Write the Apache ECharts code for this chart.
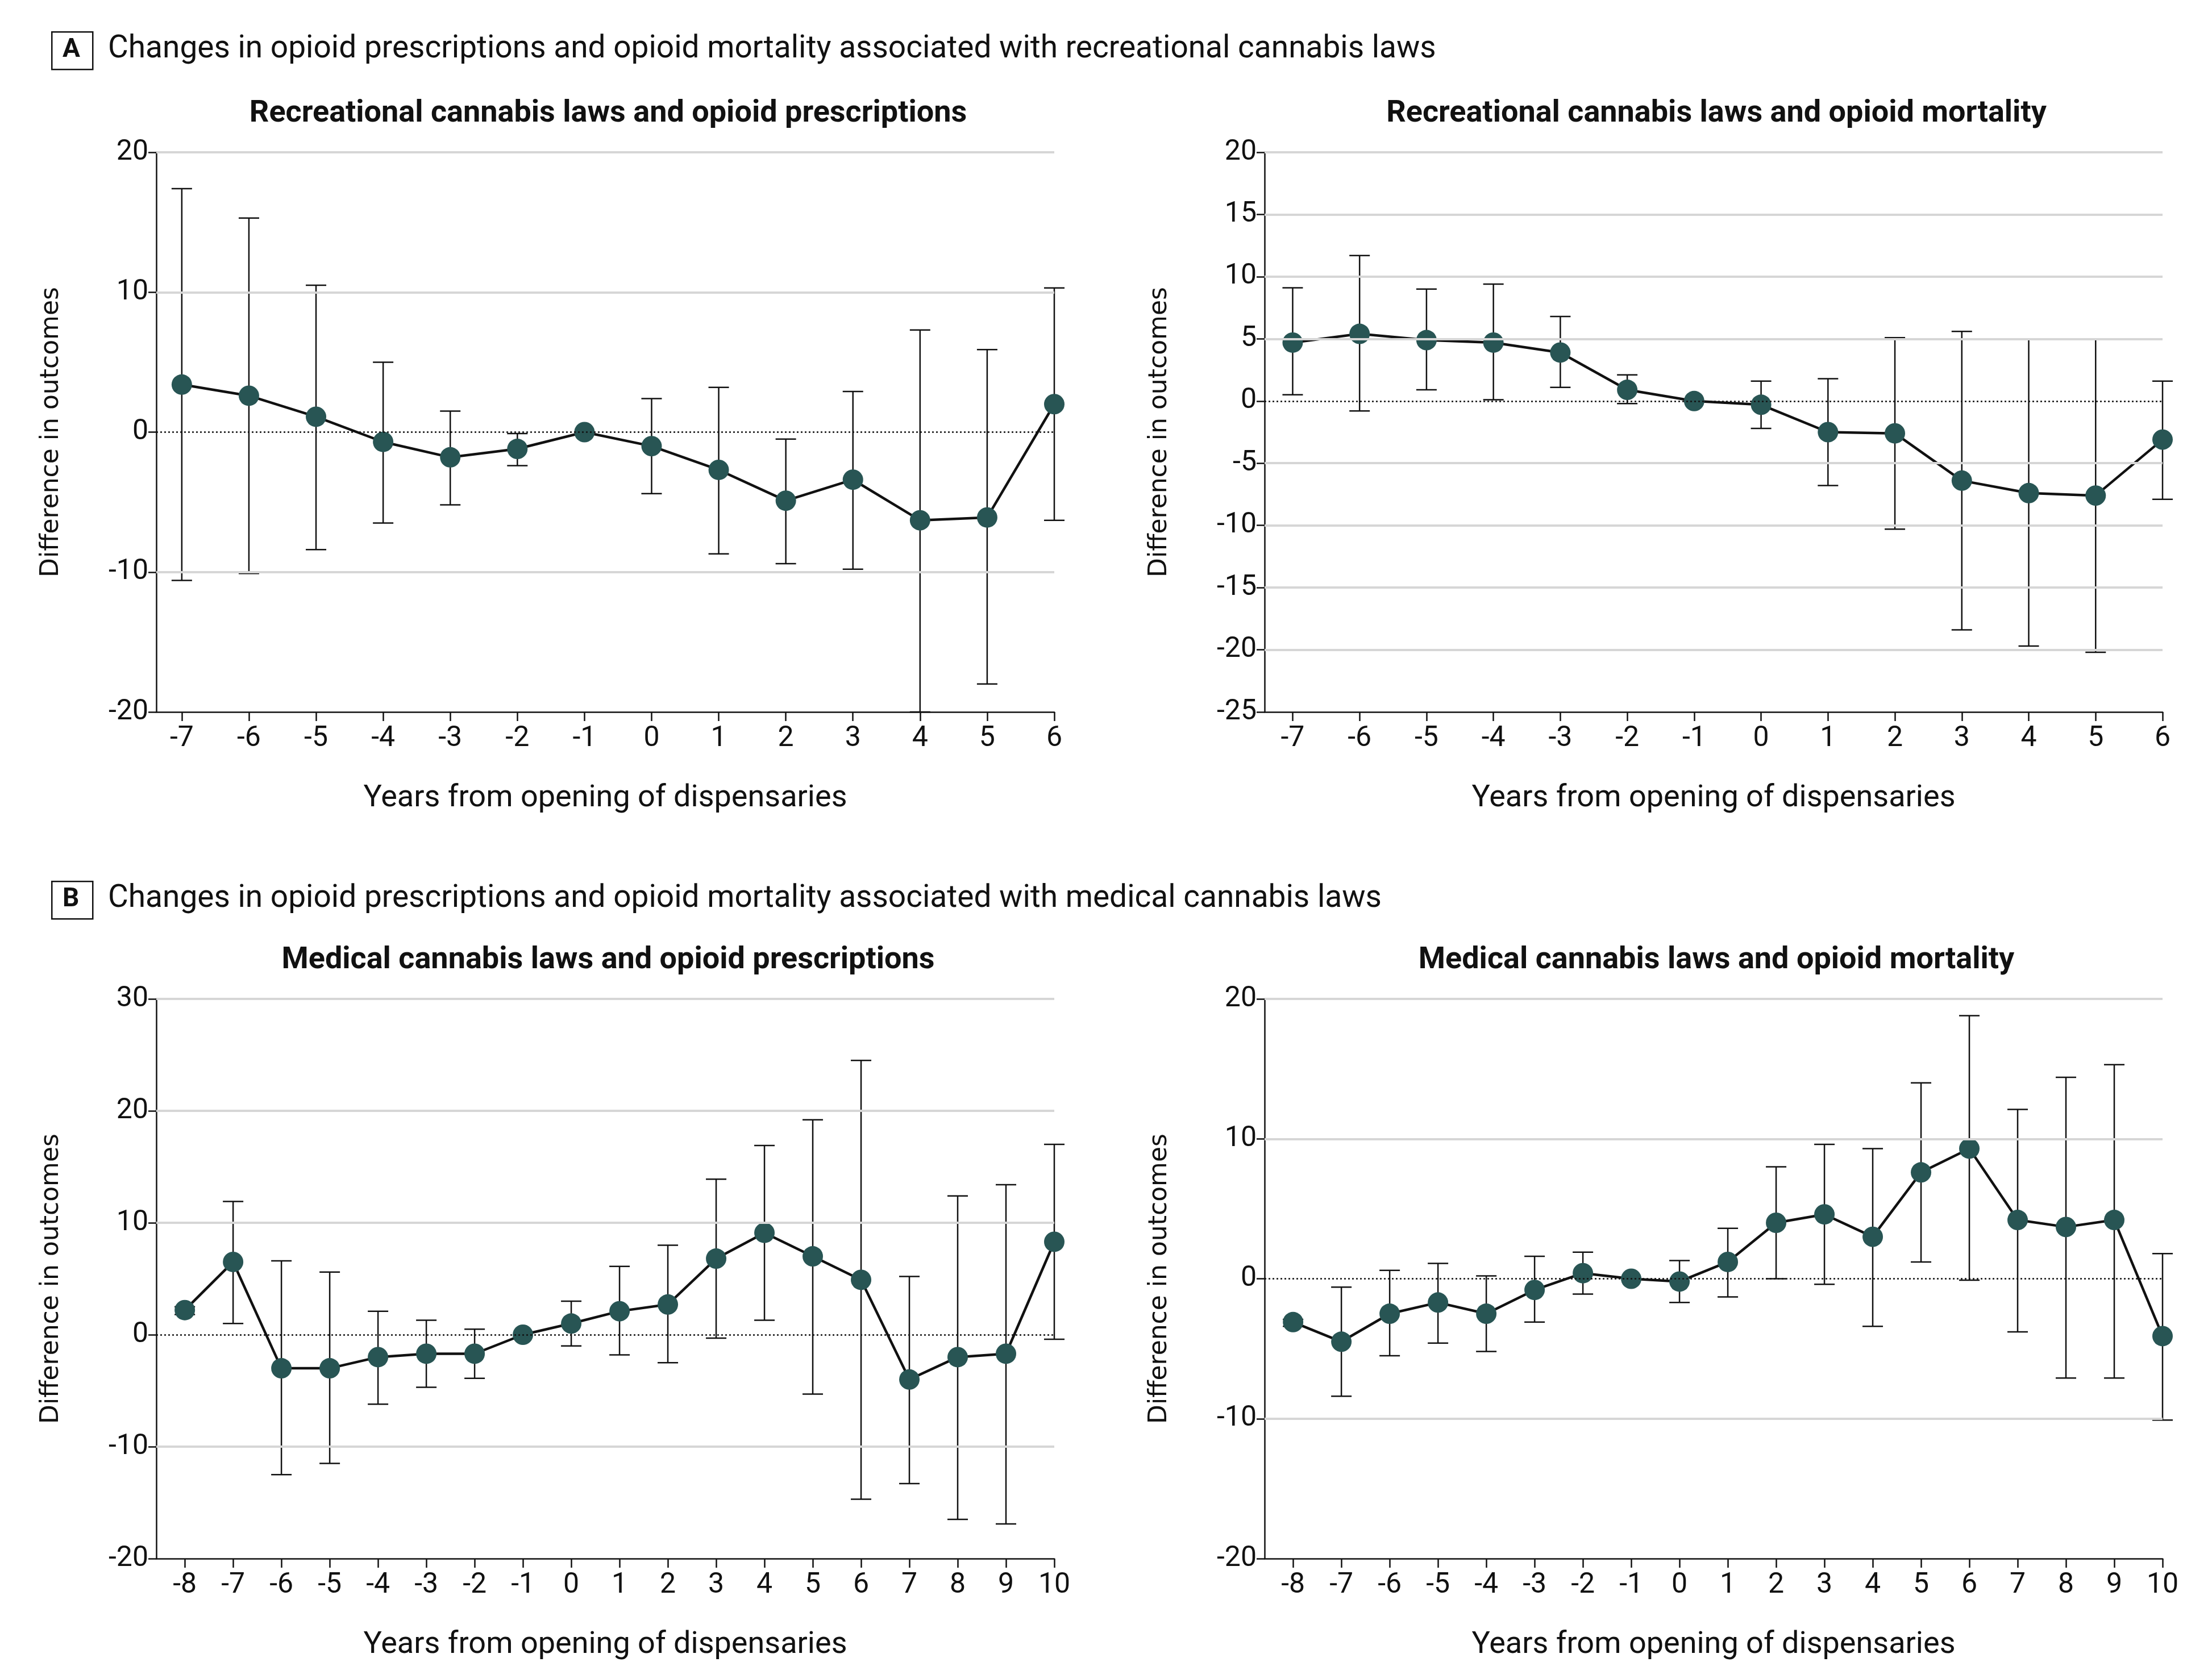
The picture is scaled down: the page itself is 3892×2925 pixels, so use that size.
<!DOCTYPE html>
<html><head><meta charset="utf-8">
<script src="https://cdn.jsdelivr.net/npm/echarts@6/dist/echarts.min.js"></script>
<style>html,body{margin:0;padding:0;background:#fff}#c{width:3892px;height:2925px}</style>
</head><body><div id="c"></div>
<script>
// Panel A left: recreational / prescriptions
const yearsA = [-7,-6,-5,-4,-3,-2,-1,0,1,2,3,4,5,6];
const recPresMean  = [3.4,2.6,1.1,-0.7,-1.8,-1.2,0,-1.0,-2.7,-4.9,-3.4,-6.3,-6.1,2.0];
const recPresUpper = [17.4,15.3,10.5,5.0,1.5,-0.1,null,2.4,3.2,-0.5,2.9,7.3,5.9,10.3];
const recPresLower = [-10.6,-10.1,-8.4,-6.5,-5.2,-2.4,null,-4.4,-8.7,-9.4,-9.8,-20.0,-18.0,-6.3];
// Panel A right: recreational / mortality
const recMortMean  = [4.7,5.4,4.9,4.7,3.9,0.9,0,-0.3,-2.5,-2.6,-6.4,-7.4,-7.6,-3.1];
const recMortUpper = [9.1,11.7,9.0,9.4,6.8,2.1,null,1.6,1.8,5.1,5.6,5.0,5.0,1.6];
const recMortLower = [0.5,-0.8,0.9,0.1,1.1,-0.2,null,-2.2,-6.8,-10.3,-18.4,-19.7,-20.2,-7.9];
// Panel B
const yearsB = [-8,-7,-6,-5,-4,-3,-2,-1,0,1,2,3,4,5,6,7,8,9,10];
const medPresMean  = [2.2,6.5,-3.0,-3.0,-2.0,-1.7,-1.7,0,1.0,2.1,2.7,6.8,9.1,7.0,4.9,-4.0,-2.0,-1.7,8.3];
const medPresUpper = [2.5,11.9,6.6,5.6,2.1,1.3,0.5,null,3.0,6.1,8.0,13.9,16.9,19.2,24.5,5.2,12.4,13.4,17.0];
const medPresLower = [1.8,1.0,-12.5,-11.5,-6.2,-4.7,-3.9,null,-1.0,-1.8,-2.5,-0.3,1.3,-5.3,-14.7,-13.3,-16.5,-16.9,-0.4];
const medMortMean  = [-3.1,-4.5,-2.5,-1.7,-2.5,-0.8,0.4,0,-0.2,1.2,4.0,4.6,3.0,7.6,9.3,4.2,3.7,4.2,-4.1];
const medMortUpper = [-2.9,-0.6,0.6,1.1,0.2,1.6,1.9,null,1.3,3.6,8.0,9.6,9.3,14.0,18.8,12.1,14.4,15.3,1.8];
const medMortLower = [-3.4,-8.4,-5.5,-4.6,-5.2,-3.1,-1.1,null,-1.7,-1.3,0.0,-0.4,-3.4,1.2,-0.1,-3.8,-7.1,-7.1,-10.1];

const titles = ['Recreational cannabis laws and opioid prescriptions','Recreational cannabis laws and opioid mortality',
  'Medical cannabis laws and opioid prescriptions','Medical cannabis laws and opioid mortality'];
const yTicks = [[-20,-10,0,10,20],[-25,-20,-15,-10,-5,0,5,10,15,20],[-20,-10,0,10,20,30],[-20,-10,0,10,20]];

const panels = [
  {x:yearsA,m:recPresMean,u:recPresUpper,l:recPresLower,xmin:-7.38,xmax:6,left:275,right:2037,top:268,bottom:1672},
  {x:yearsA,m:recMortMean,u:recMortUpper,l:recMortLower,xmin:-7.42,xmax:6,left:2225,right:87,top:268,bottom:1672},
  {x:yearsB,m:medPresMean,u:medPresUpper,l:medPresLower,xmin:-8.59,xmax:10,left:275,right:2037,top:1758,bottom:182},
  {x:yearsB,m:medMortMean,u:medMortUpper,l:medMortLower,xmin:-8.59,xmax:10,left:2225,right:87,top:1758,bottom:182}
];
const NARROW = '"Liberation Sans Narrow", Roboto, sans-serif';
const grid=[],xAxis=[],yAxis=[],series=[],title=[];
panels.forEach((p,i)=>{
  grid.push({left:p.left,right:p.right,top:p.top,bottom:p.bottom});
  const cx = p.left + (3892-p.left-p.right)/2;
  title.push({text:titles[i],left:cx,top:p.top-100,textAlign:'center',
    textStyle:{fontFamily:NARROW,fontWeight:'bold',fontSize:54,color:'#111'}});
  xAxis.push({type:'value',gridIndex:i,min:p.xmin,max:p.xmax,
    name:'Years from opening of dispensaries',nameLocation:'middle',nameGap:125,
    nameTextStyle:{fontFamily:NARROW,fontSize:54,color:'#111'},
    axisLine:{show:true,onZero:false,lineStyle:{color:'#111',width:2.5}},
    axisTick:{show:true,customValues:p.x,length:16,lineStyle:{color:'#111',width:2.5}},
    axisLabel:{customValues:p.x,fontFamily:NARROW,fontSize:50,color:'#111',margin:22},
    splitLine:{show:false}});
  const yt=yTicks[i];
  yAxis.push({type:'value',gridIndex:i,min:yt[0],max:yt[yt.length-1],interval:yt[1]-yt[0],
    name:'Difference in outcomes',nameLocation:'middle',nameGap:162,
    nameTextStyle:{fontFamily:'"DejaVu Sans", sans-serif',fontSize:44,color:'#111'},
    axisLine:{show:true,onZero:false,lineStyle:{color:'#111',width:2.5}},
    axisTick:{show:true,length:14,lineStyle:{color:'#111',width:2.5}},
    axisLabel:{fontFamily:NARROW,fontSize:50,color:'#111',margin:14},
    splitLine:{show:false}});
  series.push({type:'line',xAxisIndex:i,yAxisIndex:i,data:[],silent:true,
    markLine:{symbol:'none',silent:true,label:{show:false},animation:false,
      data:yt.filter(v=>v!==0&&v!==yt[0]).map(v=>({yAxis:v,lineStyle:{color:'#d6d6d6',width:4,type:'solid'}}))
        .concat([{yAxis:0,lineStyle:{color:'#111',width:2.5,type:[3,4]}}])}});
  const eb = p.x.map((x,k)=>[x,p.l[k],p.u[k]]).filter(d=>d[1]!==null);
  series.push({type:'custom',xAxisIndex:i,yAxisIndex:i,data:eb,z:3,
    renderItem:(params,api)=>{
      const lo=api.coord([api.value(0),api.value(1)]), hi=api.coord([api.value(0),api.value(2)]);
      const w=18, st={stroke:'#111',lineWidth:2.5};
      return {type:'group',children:[
        {type:'line',shape:{x1:lo[0],y1:lo[1],x2:hi[0],y2:hi[1]},style:st},
        {type:'line',shape:{x1:lo[0]-w,y1:lo[1],x2:lo[0]+w,y2:lo[1]},style:st},
        {type:'line',shape:{x1:hi[0]-w,y1:hi[1],x2:hi[0]+w,y2:hi[1]},style:st}]};
    }});
  series.push({type:'line',xAxisIndex:i,yAxisIndex:i,data:p.x.map((x,k)=>[x,p.m[k]]),z:4,
    symbol:'circle',symbolSize:36,lineStyle:{color:'#111',width:4.5},
    itemStyle:{color:'#285554',borderWidth:0},animation:false});
});
const hdr=(letter,y,text)=>[
  {type:'rect',left:90,top:y,shape:{width:72,height:66},style:{fill:'#fff',stroke:'#111',lineWidth:2.5}},
  {type:'text',left:110,top:y+10,style:{text:letter,font:'bold 46px '+NARROW,fill:'#111'}},
  {type:'text',left:190,top:y+5,style:{text:text,font:'55px '+NARROW,fill:'#111'}}];
const chart=echarts.init(document.getElementById('c'));
chart.setOption({animation:false,backgroundColor:'#fff',title,grid,xAxis,yAxis,series,
  graphic:hdr('A',55,'Changes in opioid prescriptions and opioid mortality associated with recreational cannabis laws')
    .concat(hdr('B',1550,'Changes in opioid prescriptions and opioid mortality associated with medical cannabis laws'))});
</script></body></html>
